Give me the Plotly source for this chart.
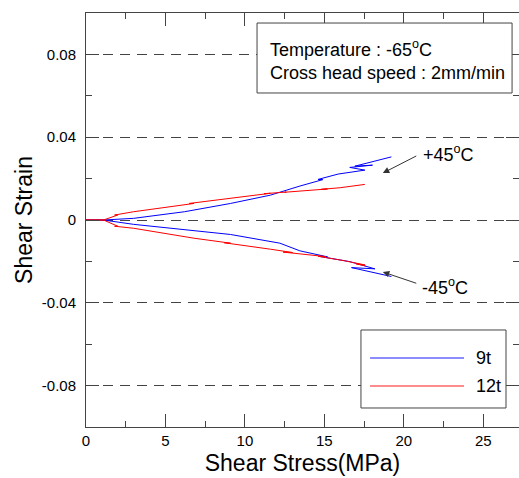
import plotly.graph_objects as go

# ---------------- data ----------------
blue_up_x = [0, 1.1, 3.0, 6.2, 9.1, 11.6, 13.46, 14.9, 14.6, 15.87, 17.55, 16.6, 18.03, 16.92, 19.22]
blue_up_y = [0, 0, 0.0008, 0.0040, 0.0080, 0.0120, 0.0164, 0.0195, 0.0196, 0.0222, 0.0241, 0.0254, 0.0265, 0.0260, 0.0305]

red_up_x = [0, 1.1, 2.0, 1.8, 3.0, 4.0, 4.9, 4.6, 6.0, 6.8, 6.5, 8.0, 9.1, 8.7, 10.4, 11.6,
            11.2, 12.6, 13.0, 12.5, 14.3, 15.2, 14.8, 16.0, 16.9, 16.5, 17.55]
red_up_y = [0, 0, 0.0024, 0.0024, 0.0040, 0.0050, 0.0059, 0.0059, 0.0072, 0.0080, 0.0080,
            0.0094, 0.0105, 0.0103, 0.0118, 0.0129, 0.0127, 0.0135, 0.0137, 0.0134, 0.0145, 0.0150, 0.0148,
            0.0156, 0.0165, 0.0163, 0.0172]

blue_lo_x = [0, 1.1, 3.0, 6.2, 9.1, 12.2, 13.46, 15.2, 14.7, 16.6, 18.18, 16.71, 19.22]
blue_lo_y = [0, 0, -0.0021, -0.0048, -0.0070, -0.0112, -0.0149, -0.0178, -0.0176, -0.0201, -0.0236, -0.0230, -0.0273]

red_lo_x = [0, 1.1, 2.0, 1.8, 3.0, 4.9, 4.5, 6.8, 9.1, 8.7, 11.6, 13.0, 12.4, 15.1, 14.6, 16.2, 17.55, 17.0, 17.6]
red_lo_y = [0, 0, -0.0030, -0.0030, -0.0040, -0.0064, -0.0062, -0.0088, -0.0112, -0.0110, -0.0141, -0.0157,
            -0.0155, -0.0177, -0.0175, -0.0196, -0.0217, -0.0212, -0.0222]

series_names = ["9t", "12t"]
series_colors = ["#0000ff", "#ff0000"]

y_tickvals = [0.08, 0.04, 0, -0.04, -0.08]
y_ticktext = ["0.08", "0.04", "0", "-0.04", "-0.08"]
x_tickvals = [0, 5, 10, 15, 20, 25]

FONT = "Liberation Sans, Arial, sans-serif"

fig = go.Figure()
for xs, ys, c in [(blue_up_x, blue_up_y, series_colors[0]), (blue_lo_x, blue_lo_y, series_colors[0]),
                  (red_up_x, red_up_y, series_colors[1]), (red_lo_x, red_lo_y, series_colors[1])]:
    fig.add_trace(go.Scatter(x=xs, y=ys, mode="lines", line=dict(color=c, width=1), showlegend=False))

# invisible trace to activate the right-side tick axis
fig.add_trace(go.Scatter(x=[0], y=[0], yaxis="y2", mode="markers", marker=dict(opacity=0),
                         showlegend=False, hoverinfo="skip"))

fig.update_layout(
    width=519, height=478,
    margin=dict(l=86, r=0, t=13, b=51),
    paper_bgcolor="white", plot_bgcolor="white",
    font=dict(family=FONT, color="black"),
    xaxis=dict(range=[0, 27.25], tickvals=x_tickvals, ticks="inside", ticklen=13, tickwidth=1,
               tickcolor="#444", showline=True, linecolor="#444", linewidth=1, mirror="ticks",
               showgrid=False, zeroline=False, tickfont=dict(size=15),
               minor=dict(dtick=2.5, tick0=0, ticks="inside", ticklen=6, tickcolor="#444", showgrid=False),
               title=dict(text="Shear Stress(MPa)", font=dict(size=23), standoff=6)),
    yaxis=dict(range=[-0.1, 0.1], tickvals=y_tickvals, ticktext=y_ticktext, ticks="inside", ticklen=13,
               tickwidth=1, tickcolor="#444", showline=True, linecolor="#444", linewidth=1,
               showgrid=True, gridcolor="#444", gridwidth=1, griddash="10px,7px", zeroline=False,
               tickfont=dict(size=15), ticklabelstandoff=6,
               minor=dict(dtick=0.02, tick0=0, ticks="inside", ticklen=6, tickcolor="#444", showgrid=False),
               title=dict(text="Shear Strain", font=dict(size=23), standoff=2)),
    yaxis2=dict(range=[-0.1, 0.1], overlaying="y", side="right", anchor="x", tickvals=y_tickvals,
                ticks="inside", ticklen=13, tickwidth=1, tickcolor="#444", showticklabels=False,
                showline=False, showgrid=False, zeroline=False,
                minor=dict(dtick=0.02, tick0=0, ticks="inside", ticklen=6, tickcolor="#444", showgrid=False)),
)

# info box
fig.add_shape(type="rect", xref="paper", yref="paper", x0=0.395, x1=0.984, y0=0.8068, y1=0.9758,
              line=dict(color="#444", width=1), fillcolor="white", layer="above")
fig.add_annotation(xref="paper", yref="paper", x=0.420, y=0.8865, xanchor="left", yanchor="middle",
                   align="left", showarrow=False, font=dict(size=18, family=FONT),
                   text="Temperature : -65<sup>o</sup>C<br>Cross head speed : 2mm/min")

# arrows
fig.add_annotation(x=18.68, y=0.02265, ax=20.88, ay=0.0313, xref="x", yref="y", axref="x", ayref="y",
                   showarrow=True, arrowhead=2, arrowsize=1.3, arrowwidth=1, arrowcolor="#333", text="")
fig.add_annotation(x=21.1, y=0.0323, xref="x", yref="y", xanchor="left", yanchor="middle",
                   showarrow=False, text="+45<sup>o</sup>C", font=dict(size=18, family=FONT))
fig.add_annotation(x=18.68, y=-0.0251, ax=20.88, ay=-0.0308, xref="x", yref="y", axref="x", ayref="y",
                   showarrow=True, arrowhead=2, arrowsize=1.3, arrowwidth=1, arrowcolor="#333", text="")
fig.add_annotation(x=21.0, y=-0.0323, xref="x", yref="y", xanchor="left", yanchor="middle",
                   showarrow=False, text="-45<sup>o</sup>C", font=dict(size=18, family=FONT))

# legend box (custom, to match long legend lines)
fig.add_shape(type="rect", xref="paper", yref="paper", x0=0.635, x1=0.970, y0=0.0459, y1=0.2343,
              line=dict(color="#444", width=1), fillcolor="white", layer="above")
for name, color, yy in zip(series_names, series_colors, [0.1667, 0.0990]):
    fig.add_shape(type="line", xref="paper", yref="paper", x0=0.656, x1=0.873, y0=yy, y1=yy,
                  line=dict(color=color, width=1.5), opacity=0.6, layer="above")
    fig.add_annotation(xref="paper", yref="paper", x=0.896, y=yy, xanchor="left", yanchor="middle",
                       showarrow=False, text=name, font=dict(size=18, family=FONT))

fig.write_html("out.html", config={"displayModeBar": False},
               post_script="document.body.style.margin='0';document.body.style.overflow='hidden';")
